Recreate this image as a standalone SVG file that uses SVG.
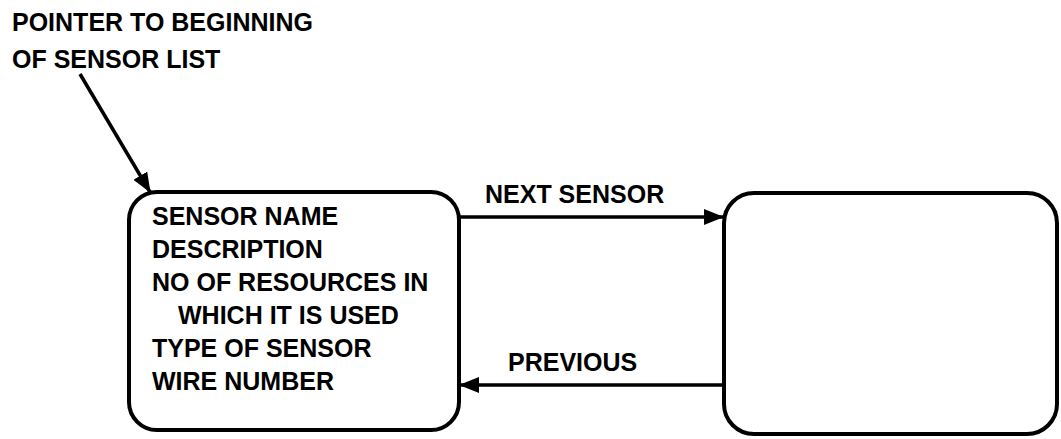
<svg xmlns="http://www.w3.org/2000/svg" width="1061" height="439" viewBox="0 0 1061 439">
<style>
text{font-family:"Liberation Sans",Arial,sans-serif;font-weight:bold;font-size:25px;fill:#000}
.box{fill:none;stroke:#000;stroke-width:4}
.conn{fill:none;stroke:#000;stroke-width:3.5}
</style>
<defs>
<marker id="ah" viewBox="0 0 20 16" refX="19" refY="8" markerWidth="20" markerHeight="16" markerUnits="userSpaceOnUse" orient="auto">
<path d="M0,0 L20,8 L0,16 Z" fill="#000"/>
</marker>
</defs>
<rect width="1061" height="439" fill="#fff"/>
<g id="title">
<text x="12" y="31">POINTER TO BEGINNING</text>
<text x="12" y="68">OF SENSOR LIST</text>
</g>
<g id="sensor-node">
<rect class="box" x="129" y="192" width="330" height="238" rx="28" ry="28"/>
<text x="152" y="225">SENSOR NAME</text>
<text x="152" y="258">DESCRIPTION</text>
<text x="152" y="291">NO OF RESOURCES IN</text>
<text x="178" y="324">WHICH IT IS USED</text>
<text x="152" y="357">TYPE OF SENSOR</text>
<text x="152" y="390">WIRE NUMBER</text>
</g>
<g id="next-node">
<rect class="box" x="724" y="193" width="333" height="241" rx="30" ry="30"/>
</g>
<g id="connectors">
<line class="conn" x1="80" y1="74" x2="150" y2="192" marker-end="url(#ah)"/>
<line class="conn" x1="459" y1="217" x2="723" y2="217" marker-end="url(#ah)"/>
<text x="485" y="203">NEXT SENSOR</text>
<line class="conn" x1="724" y1="385" x2="460" y2="385" marker-end="url(#ah)"/>
<text x="508" y="371">PREVIOUS</text>
</g>
</svg>
